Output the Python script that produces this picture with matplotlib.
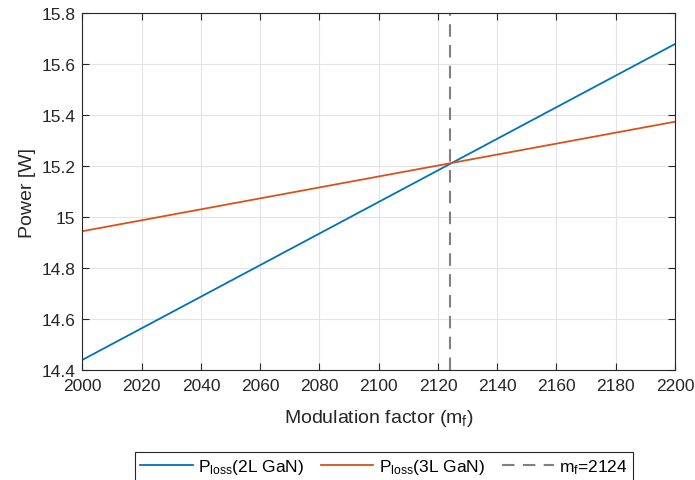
import matplotlib
matplotlib.use('Agg')
import matplotlib.pyplot as plt

# data
mf = [2000, 2100, 2200]
p_2l = [14.44, 15.06, 15.68]
p_3l = [14.945, 15.16, 15.375]
mf_cross = 2124

plt.rcParams['font.family'] = ['Liberation Sans', 'DejaVu Sans']
plt.rcParams['mathtext.fontset'] = 'custom'
plt.rcParams['mathtext.rm'] = 'Liberation Sans'

fig = plt.figure(figsize=(6.95, 4.81), dpi=100)
ax = fig.add_axes([0.1187, 0.2287, 0.8525, 0.7412])

ax.plot(mf, p_2l, color='#0072BD', lw=1.3, label=r'$\mathregular{P_{loss}}$(2L GaN)')
ax.plot(mf, p_3l, color='#D95319', lw=1.3, label=r'$\mathregular{P_{loss}}$(3L GaN)')
ax.axvline(mf_cross, color='#808080', lw=1.5, ls=(0, (6, 4)),
           label=r'$\mathregular{m_f}$=%d' % mf_cross)

ax.set_xlim(2000, 2200)
ax.set_ylim(14.4, 15.8)
ax.set_xticks(range(2000, 2201, 20))
ax.set_yticks([14.4, 14.6, 14.8, 15, 15.2, 15.4, 15.6, 15.8])
ax.set_yticklabels(['14.4', '14.6', '14.8', '15', '15.2', '15.4', '15.6', '15.8'])

ax.grid(True, color='#e3e3e3', lw=0.8)
ax.set_axisbelow(True)
ax.tick_params(direction='in', top=True, right=True, labelsize=12.5,
               colors='#262626', length=5, width=0.8, pad=5)
ax.tick_params(axis='x', pad=6)
for s in ax.spines.values():
    s.set_color('#262626')
    s.set_linewidth(0.8)

ax.set_xlabel(r'Modulation factor ($\mathregular{m_f}$)', fontsize=14, color='#262626',
              labelpad=10)
ax.set_ylabel('Power [W]', fontsize=14, color='#262626', labelpad=4)

leg = fig.legend(loc='upper center', bbox_to_anchor=(0.553, 0.058), ncol=3,
                 fontsize=12.5, frameon=True, fancybox=False, framealpha=1,
                 edgecolor='#262626', handlelength=3.0, columnspacing=1.0,
                 borderpad=0.3, handletextpad=0.3, borderaxespad=0)
leg.get_frame().set_linewidth(0.8)

fig.savefig('out.png', dpi=100)
